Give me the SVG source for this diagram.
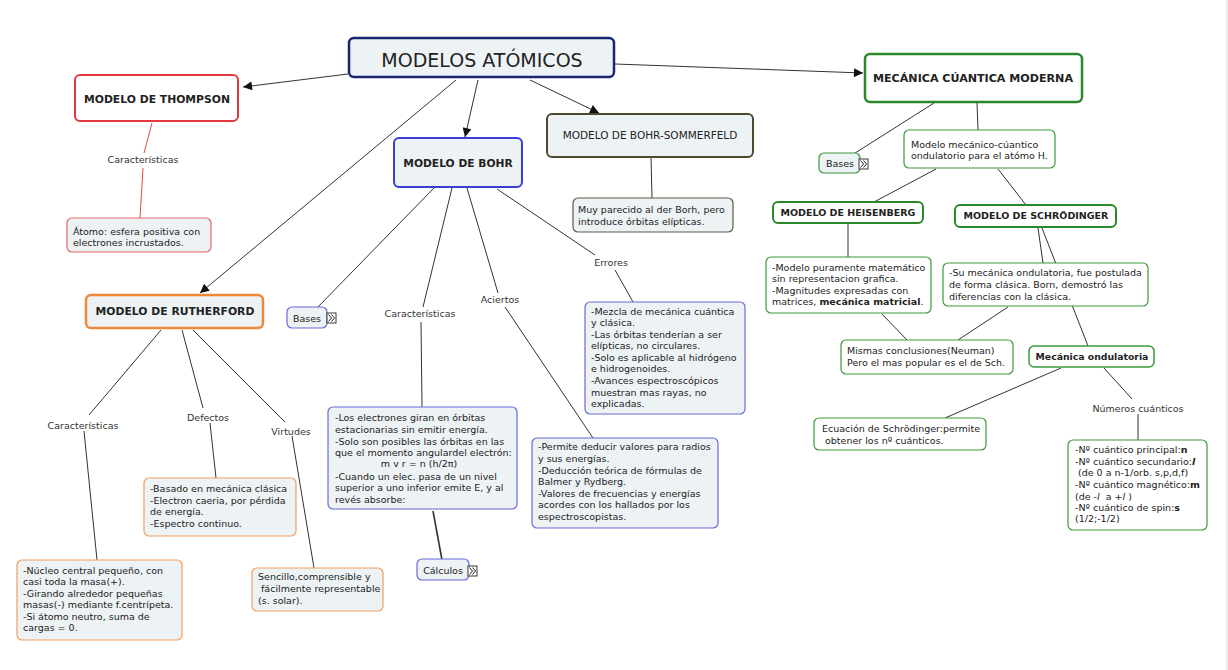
<svg xmlns="http://www.w3.org/2000/svg" width="1228" height="670" viewBox="0 0 1228 670">
<style>
text{font-family:"DejaVu Sans","Verdana",sans-serif;fill:#222}
.t{font-size:9.5px}
.lb{font-size:9.5px;text-anchor:middle;fill:#333}
.h{font-weight:bold;text-anchor:middle}
.box{fill:#edf2f5}
.wbox{fill:#ffffff}
.c line,.c polyline{stroke:#333;stroke-width:1;fill:none}
.ico{fill:#fff;stroke:#222;stroke-width:0.9}
.chev{fill:none;stroke:#222;stroke-width:1}
</style>
<defs>
<marker id="arr" viewBox="0 0 10 10" refX="10" refY="5" markerWidth="10" markerHeight="9" markerUnits="userSpaceOnUse" orient="auto">
<path d="M0,0 L10,5 L0,10 z" fill="#111"/>
</marker>
</defs>
<rect x="0" y="0" width="1228" height="670" fill="#ffffff"/>
<rect x="1226" y="0" width="2" height="670" fill="#ececec"/>

<g class="c" id="connectors">
<line x1="348" y1="74" x2="243" y2="87" marker-end="url(#arr)"/>
<line x1="456" y1="80" x2="200" y2="293" marker-end="url(#arr)"/>
<line x1="478" y1="80" x2="465" y2="137" marker-end="url(#arr)"/>
<line x1="530" y1="80" x2="599" y2="113" marker-end="url(#arr)"/>
<line x1="615" y1="64" x2="863" y2="73" marker-end="url(#arr)"/>
<line x1="152" y1="123" x2="144" y2="153" style="stroke:#e04848"/>
<line x1="143" y1="168" x2="140" y2="218" style="stroke:#e04848"/>
<line x1="651" y1="157" x2="652" y2="198"/>
<line x1="434" y1="188" x2="315" y2="310"/>
<line x1="452" y1="188" x2="423" y2="307"/>
<line x1="421" y1="322" x2="422" y2="407"/>
<line x1="467" y1="188" x2="498" y2="293"/>
<line x1="505" y1="307" x2="593" y2="438"/>
<line x1="497" y1="189" x2="595" y2="255"/>
<line x1="615" y1="270" x2="633" y2="302"/>
<line x1="433" y1="511" x2="442" y2="560" style="stroke-width:1.6"/>
<line x1="161" y1="330" x2="89" y2="415"/>
<line x1="84" y1="431" x2="97" y2="560"/>
<line x1="182" y1="330" x2="203" y2="408"/>
<line x1="210" y1="423" x2="216" y2="478"/>
<line x1="193" y1="330" x2="285" y2="422"/>
<line x1="292" y1="436" x2="314" y2="568"/>
<line x1="934" y1="103" x2="852" y2="155"/>
<line x1="977" y1="103" x2="978" y2="130"/>
<line x1="936" y1="169" x2="874" y2="202"/>
<line x1="998" y1="169" x2="1026" y2="205"/>
<line x1="848" y1="224" x2="848" y2="257"/>
<line x1="1038" y1="228" x2="1043" y2="263"/>
<line x1="1042" y1="228" x2="1088" y2="346"/>
<line x1="882" y1="314" x2="907" y2="340"/>
<line x1="1008" y1="307" x2="958" y2="340"/>
<line x1="1061" y1="368" x2="945" y2="418"/>
<line x1="1104" y1="368" x2="1132" y2="399"/>
<line x1="1138" y1="414" x2="1138" y2="440"/>
</g>

<g id="n-modelos">
<rect x="349" y="38" width="265" height="39" rx="5" class="box" stroke="#1a2570" stroke-width="2.5"/>
<text x="482" y="67" style="font-size:19px;text-anchor:middle">MODELOS ATÓMICOS</text>
</g>

<g id="n-thompson">
<rect x="75" y="75" width="163" height="46" rx="5" class="wbox" stroke="#e0383c" stroke-width="2"/>
<text x="157" y="103" class="h" style="font-size:10.8px">MODELO DE THOMPSON</text>
</g>
<g id="l-thompson-car"><text x="143" y="163" class="lb">Características</text></g>
<g id="n-atomo">
<rect x="67" y="218" width="144" height="34" rx="5" class="box" stroke="#e06a6a" stroke-width="1.2"/>
<text x="73" y="235" class="t">Átomo: esfera positiva con</text>
<text x="73" y="246" class="t">electrones incrustados.</text>
</g>

<g id="n-rutherford">
<rect x="86" y="295" width="177" height="33" rx="5" class="box" stroke="#f0883a" stroke-width="2.5"/>
<text x="175" y="315" class="h" style="font-size:10.8px">MODELO DE RUTHERFORD</text>
</g>
<g id="l-ruth-car"><text x="83" y="429" class="lb">Características</text></g>
<g id="l-defectos"><text x="208" y="421" class="lb">Defectos</text></g>
<g id="l-virtudes"><text x="291" y="435" class="lb">Virtudes</text></g>
<g id="n-ruth-car">
<rect x="17" y="560" width="165" height="80" rx="5" class="box" stroke="#f0a060" stroke-width="1.2"/>
<text x="23" y="574" class="t">-Núcleo central pequeño, con</text>
<text x="23" y="585" class="t">casi toda la masa(+).</text>
<text x="23" y="597" class="t">-Girando alrededor pequeñas</text>
<text x="23" y="608" class="t">masas(-) mediante f.centrípeta.</text>
<text x="23" y="620" class="t">-Si átomo neutro, suma de</text>
<text x="23" y="631" class="t">cargas = 0.</text>
</g>
<g id="n-defectos">
<rect x="144" y="478" width="152" height="58" rx="5" class="box" stroke="#f0a060" stroke-width="1.2"/>
<text x="150" y="492" class="t">-Basado en mecánica clásica</text>
<text x="150" y="504" class="t">-Electron caeria, por pérdida</text>
<text x="150" y="515" class="t">de energía.</text>
<text x="150" y="527" class="t">-Espectro continuo.</text>
</g>
<g id="n-virtudes">
<rect x="252" y="568" width="131" height="43" rx="5" class="box" stroke="#f0a060" stroke-width="1.2"/>
<text x="258" y="580" class="t">Sencillo,comprensible y</text>
<text x="258" y="592" class="t" xml:space="preserve"> fácilmente representable</text>
<text x="258" y="604" class="t">(s. solar).</text>
</g>

<g id="n-bohr">
<rect x="394" y="138" width="128" height="49" rx="5" class="box" stroke="#3c3cd8" stroke-width="2"/>
<text x="458" y="167" class="h" style="font-size:10.7px">MODELO DE BOHR</text>
</g>
<g id="n-bases-bohr">
<rect x="287" y="307" width="40" height="21" rx="5" class="box" stroke="#6a6ad8" stroke-width="1.2"/>
<text x="307" y="322" class="t" style="text-anchor:middle">Bases</text>
<rect x="327" y="313" width="9" height="10" class="ico"/>
<polyline points="328.5,314.5 331.5,318 328.5,321.5" class="chev"/>
<polyline points="331.5,314.5 334.5,318 331.5,321.5" class="chev"/>
</g>
<g id="l-bohr-car"><text x="420" y="317" class="lb">Características</text></g>
<g id="l-aciertos"><text x="500" y="303" class="lb">Aciertos</text></g>
<g id="l-errores"><text x="611" y="266" class="lb">Errores</text></g>
<g id="n-bohr-car">
<rect x="328" y="407" width="189" height="102" rx="5" class="box" stroke="#6a6ad8" stroke-width="1.2"/>
<text x="335" y="421" class="t">-Los electrones giran en órbitas</text>
<text x="335" y="433" class="t">estacionarias sin emitir energía.</text>
<text x="335" y="445" class="t">-Solo son posibles las órbitas en las</text>
<text x="335" y="456" class="t">que el momento angulardel electrón:</text>
<text x="419" y="467" class="t" style="text-anchor:middle">m v r = n (h/2π)</text>
<text x="335" y="480" class="t">-Cuando un elec. pasa de un nivel</text>
<text x="335" y="491" class="t">superior a uno inferior emite E, y al</text>
<text x="335" y="503" class="t">revés absorbe:</text>
</g>
<g id="n-calculos">
<rect x="417" y="559" width="52" height="21" rx="5" class="box" stroke="#6a6ad8" stroke-width="1.2"/>
<text x="443" y="574" class="t" style="text-anchor:middle">Cálculos</text>
<rect x="468" y="566" width="9" height="10" class="ico"/>
<polyline points="469.5,567.5 472.5,571 469.5,574.5" class="chev"/>
<polyline points="472.5,567.5 475.5,571 472.5,574.5" class="chev"/>
</g>
<g id="n-aciertos">
<rect x="532" y="438" width="186" height="90" rx="5" class="box" stroke="#6a6ad8" stroke-width="1.2"/>
<text x="538" y="450" class="t">-Permite deducir valores para radios</text>
<text x="538" y="462" class="t">y sus energías.</text>
<text x="538" y="474" class="t">-Deducción teórica de fórmulas de</text>
<text x="538" y="485" class="t">Balmer y Rydberg.</text>
<text x="538" y="497" class="t">-Valores de frecuencias y energías</text>
<text x="538" y="508" class="t">acordes con los hallados por los</text>
<text x="538" y="520" class="t">espectroscopistas.</text>
</g>
<g id="n-errores">
<rect x="585" y="302" width="160" height="112" rx="5" class="box" stroke="#6a6ad8" stroke-width="1.2"/>
<text x="591" y="315" class="t">-Mezcla de mecánica cuántica</text>
<text x="591" y="326" class="t">y clásica.</text>
<text x="591" y="338" class="t">-Las órbitas tenderían a ser</text>
<text x="591" y="349" class="t">elípticas, no circulares.</text>
<text x="591" y="361" class="t">-Solo es aplicable al hidrógeno</text>
<text x="591" y="372" class="t">e hidrogenoides.</text>
<text x="591" y="384" class="t">-Avances espectroscópicos</text>
<text x="591" y="396" class="t">muestran mas rayas, no</text>
<text x="591" y="407" class="t">explicadas.</text>
</g>

<g id="n-sommerfeld">
<rect x="547" y="114" width="206" height="43" rx="5" class="box" stroke="#4a4a30" stroke-width="2"/>
<text x="650" y="139" style="font-size:10.5px;text-anchor:middle">MODELO DE BOHR-SOMMERFELD</text>
</g>
<g id="n-muy">
<rect x="573" y="198" width="160" height="34" rx="5" class="box" stroke="#5a5a40" stroke-width="1.2"/>
<text x="578" y="213" class="t">Muy parecido al der Borh, pero</text>
<text x="578" y="225" class="t">introduce órbitas elípticas.</text>
</g>

<g id="n-mecanica">
<rect x="865" y="54" width="217" height="48" rx="5" class="wbox" stroke="#2a882a" stroke-width="2.5"/>
<text x="973" y="82" class="h" style="font-size:11.1px">MECÁNICA CÚANTICA MODERNA</text>
</g>
<g id="n-bases-mec">
<rect x="819" y="153" width="41" height="20" rx="5" class="box" stroke="#3a9a3a" stroke-width="1.2"/>
<text x="840" y="167" class="t" style="text-anchor:middle">Bases</text>
<rect x="859" y="159" width="9" height="10" class="ico"/>
<polyline points="860.5,160.5 863.5,164 860.5,167.5" class="chev"/>
<polyline points="863.5,160.5 866.5,164 863.5,167.5" class="chev"/>
</g>
<g id="n-modmec">
<rect x="904" y="130" width="151" height="38" rx="5" class="wbox" stroke="#3a9a3a" stroke-width="1.2"/>
<text x="911" y="148" class="t">Modelo mecánico-cúantico</text>
<text x="911" y="159" class="t">ondulatorio para el atómo H.</text>
</g>
<g id="n-heisenberg">
<rect x="773" y="202" width="150" height="21" rx="5" class="wbox" stroke="#2a882a" stroke-width="2"/>
<text x="848" y="216" class="h" style="font-size:9.5px">MODELO DE HEISENBERG</text>
</g>
<g id="n-schrodinger">
<rect x="955" y="205" width="161" height="22" rx="5" class="wbox" stroke="#2a882a" stroke-width="2"/>
<text x="1036" y="219" class="h" style="font-size:9.5px">MODELO DE SCHRÖDINGER</text>
</g>
<g id="n-heis-txt">
<rect x="766" y="257" width="165" height="56" rx="5" class="wbox" stroke="#3a9a3a" stroke-width="1.2"/>
<text x="772" y="271" class="t">-Modelo puramente matemático</text>
<text x="772" y="282" class="t">sin representacion grafica.</text>
<text x="772" y="294" class="t">-Magnitudes expresadas con</text>
<text x="772" y="305" class="t">matrices, <tspan font-weight="bold">mecánica matricial</tspan>.</text>
</g>
<g id="n-su">
<rect x="943" y="263" width="205" height="43" rx="5" class="wbox" stroke="#3a9a3a" stroke-width="1.2"/>
<text x="949" y="276" class="t">-Su mecánica ondulatoria, fue postulada</text>
<text x="949" y="288" class="t">de forma clásica. Born, demostró las</text>
<text x="949" y="300" class="t">diferencias con la clásica.</text>
</g>
<g id="n-mismas">
<rect x="841" y="340" width="172" height="34" rx="5" class="wbox" stroke="#3a9a3a" stroke-width="1.2"/>
<text x="847" y="354" class="t">Mismas conclusiones(Neuman)</text>
<text x="847" y="366" class="t">Pero el mas popular es el de Sch.</text>
</g>
<g id="n-mecond">
<rect x="1029" y="346" width="125" height="21" rx="5" class="wbox" stroke="#3a9a3a" stroke-width="1.5"/>
<text x="1092" y="360" class="h" style="font-size:9.3px">Mecánica ondulatoria</text>
</g>
<g id="n-ecuacion">
<rect x="814" y="418" width="172" height="32" rx="5" class="wbox" stroke="#3a9a3a" stroke-width="1.2"/>
<text x="822" y="432" class="t">Ecuación de Schrödinger:permite</text>
<text x="822" y="444" class="t" xml:space="preserve"> obtener los nº cuánticos.</text>
</g>
<g id="l-numeros"><text x="1138" y="412" class="lb">Números cuánticos</text></g>
<g id="n-numeros">
<rect x="1068" y="440" width="139" height="90" rx="5" class="wbox" stroke="#3a9a3a" stroke-width="1.2"/>
<text x="1075" y="453" class="t">-Nº cuántico principal:<tspan font-weight="bold">n</tspan></text>
<text x="1075" y="465" class="t">-Nº cuántico secundario:<tspan font-weight="bold" font-style="italic">l</tspan></text>
<text x="1075" y="476" class="t" xml:space="preserve"> (de 0 a n-1/orb. s,p,d,f)</text>
<text x="1075" y="488" class="t">-Nº cuántico magnético:<tspan font-weight="bold">m</tspan></text>
<text x="1075" y="500" class="t" xml:space="preserve">(de -<tspan font-style="italic">l</tspan>  a +<tspan font-style="italic">l</tspan> )</text>
<text x="1075" y="511" class="t">-Nº cuántico de spin:<tspan font-weight="bold">s</tspan></text>
<text x="1075" y="522" class="t">(1/2;-1/2)</text>
</g>
</svg>
